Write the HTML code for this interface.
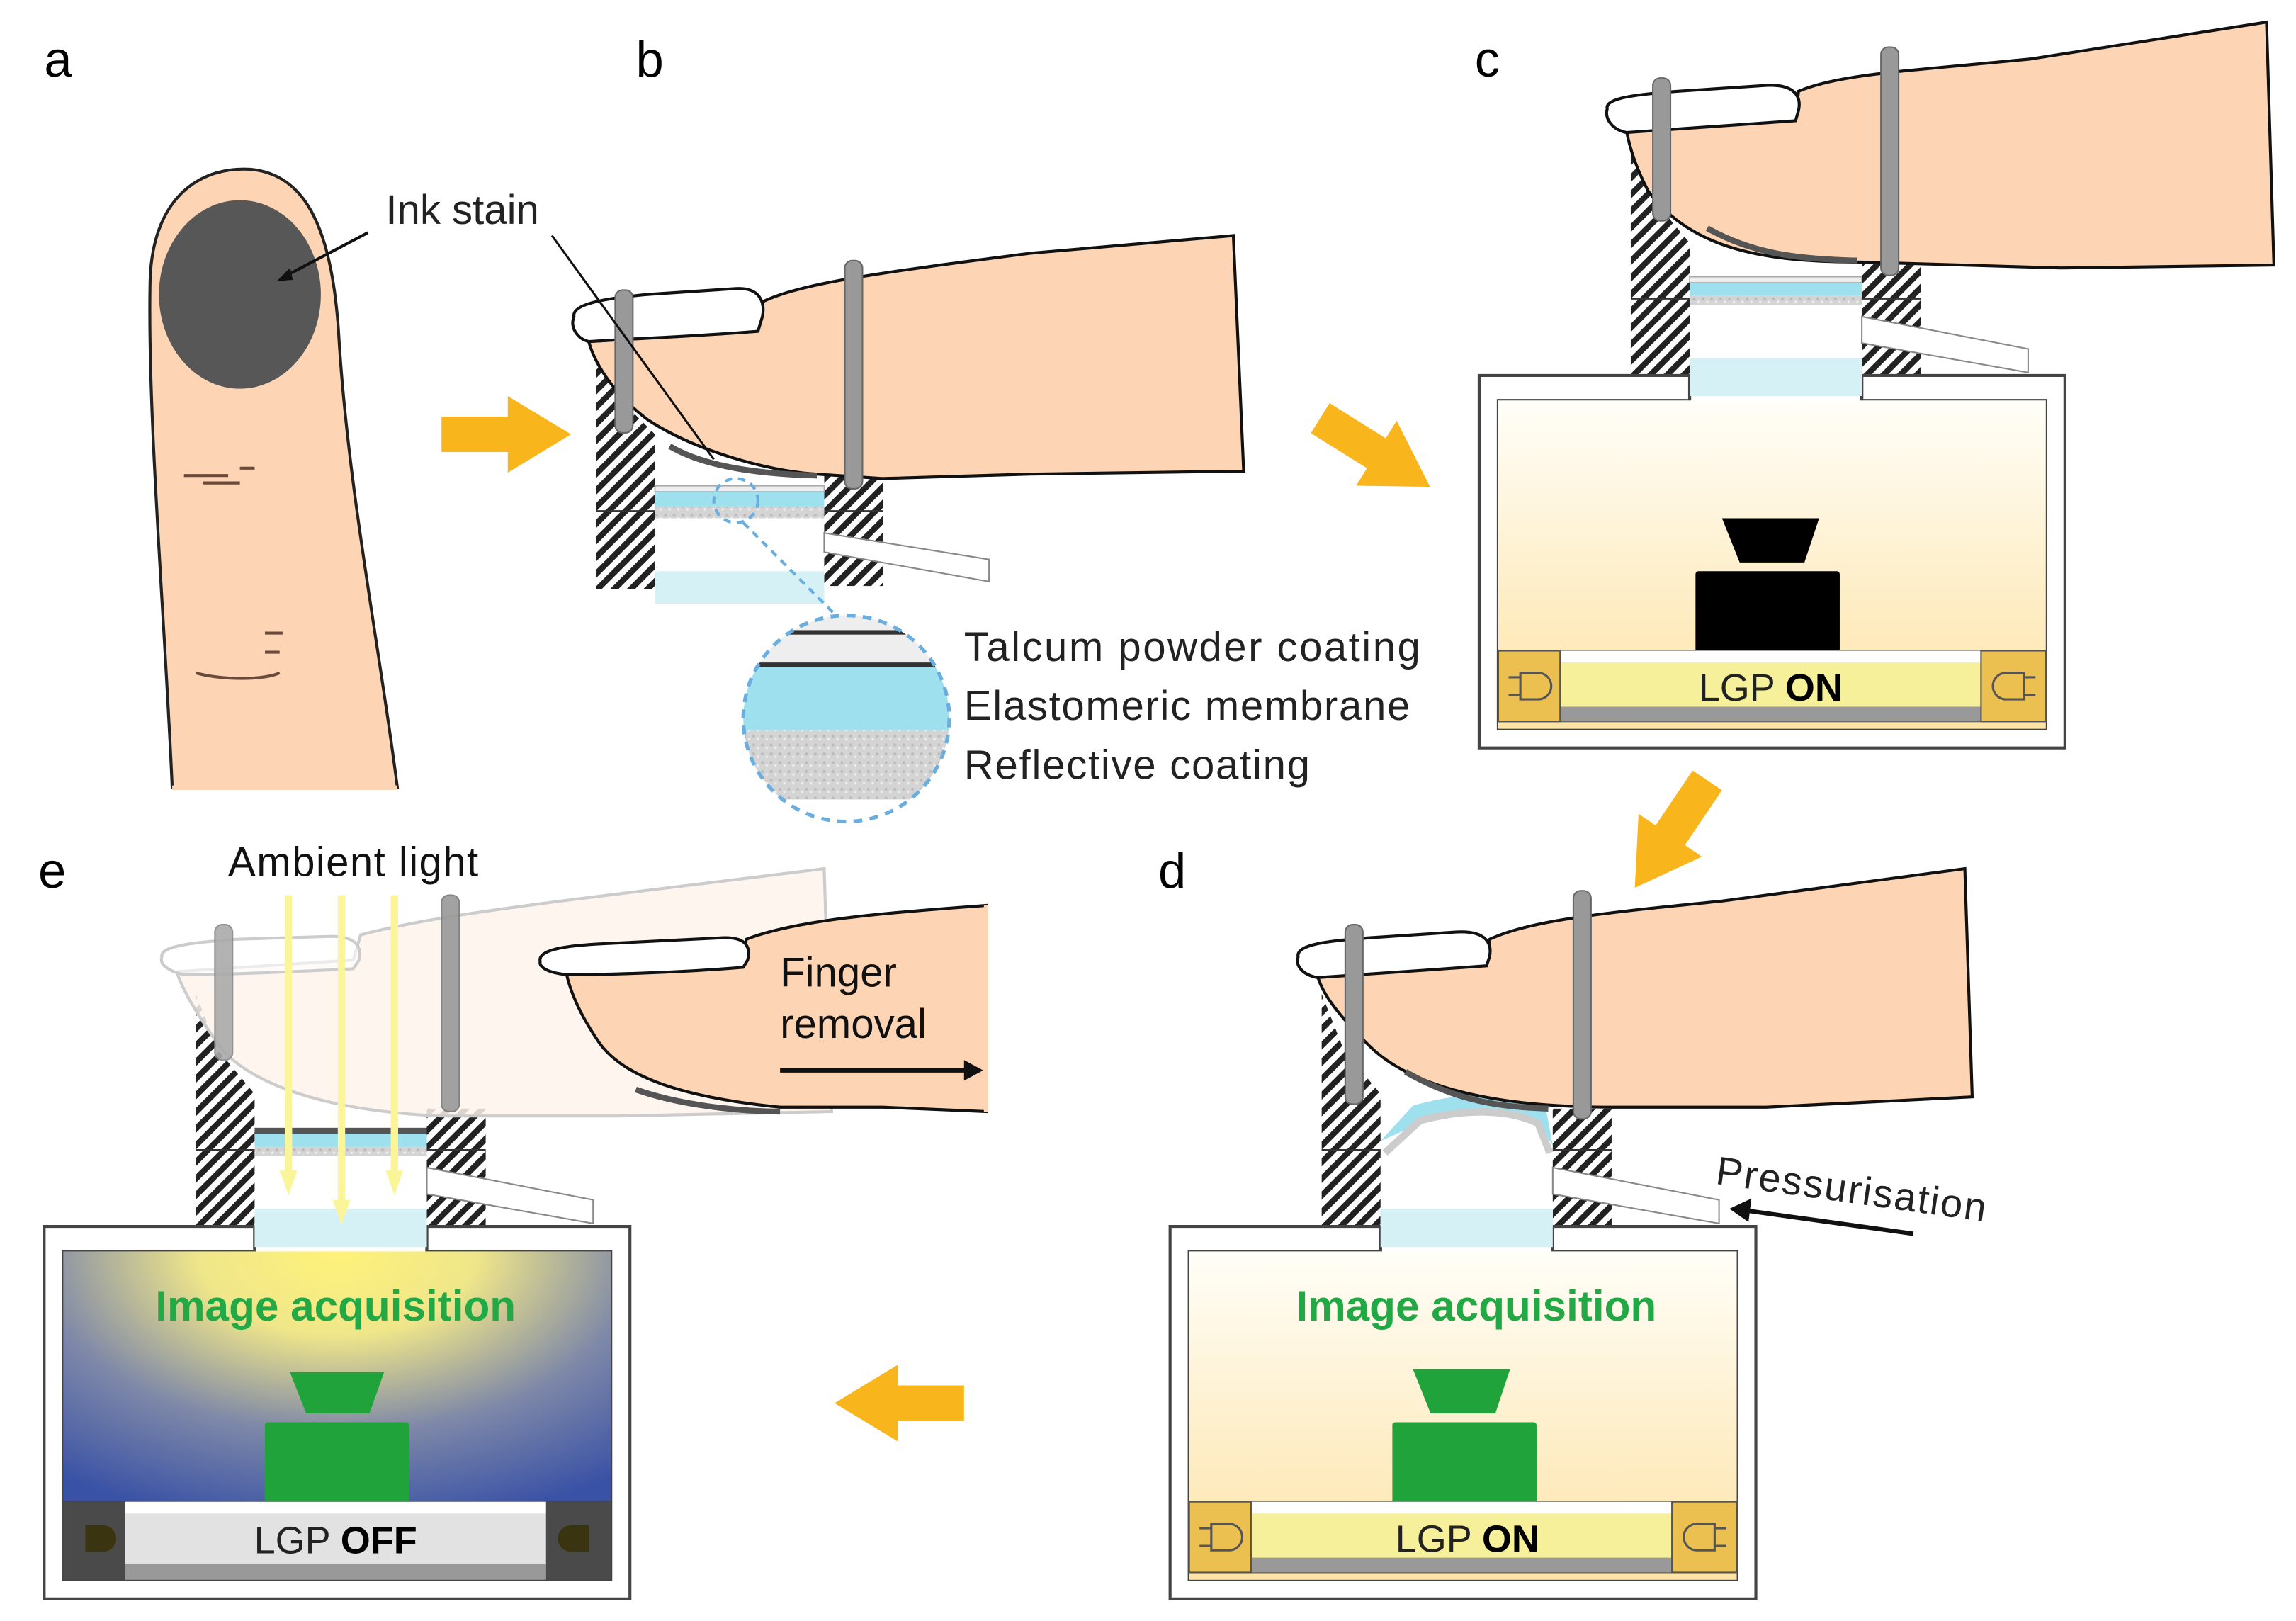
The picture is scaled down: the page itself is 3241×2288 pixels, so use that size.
<!DOCTYPE html>
<html><head><meta charset="utf-8"><style>html,body{margin:0;padding:0;background:#fff}svg{display:block}</style></head>
<body>
<svg width="3241" height="2288" viewBox="0 0 1560 1101" preserveAspectRatio="none" xmlns="http://www.w3.org/2000/svg" font-family="Liberation Sans, Arial, sans-serif">
<defs>
<pattern id="h" width="8" height="8" patternUnits="userSpaceOnUse" patternTransform="rotate(45)">
<rect width="8" height="8" fill="#fff"/><rect width="4" height="8" fill="#222"/></pattern>
<pattern id="tx" width="6" height="6" patternUnits="userSpaceOnUse"><rect width="6" height="6" fill="#d4d4d4"/><circle cx="2" cy="2" r="1" fill="#bbb"/><circle cx="5" cy="4" r="0.8" fill="#eee"/></pattern>
<linearGradient id="cream" x1="0" y1="0" x2="0" y2="1"><stop offset="0" stop-color="#fffef8"/><stop offset="1" stop-color="#fde3a6"/></linearGradient>
<radialGradient id="amb" cx="0.5" cy="0" r="0.85" fx="0.5" fy="0"><stop offset="0" stop-color="#fff27a"/><stop offset="0.3" stop-color="#efe68a"/><stop offset="0.65" stop-color="#7e88a8"/><stop offset="1" stop-color="#3a52a6"/></radialGradient>
<clipPath id="zc"><circle cx="575" cy="488" r="70"/></clipPath>
<g id="arr"><polygon points="0,-12 45,-12 45,-26 88,0 45,26 45,12 0,12" fill="#F9B51C"/></g>
<g id="dev">
<polygon points="103,-158 118,-120 143,-90 143,0 103,0" fill="url(#h)"/>
<line x1="103" y1="-52" x2="143" y2="-52" stroke="#333" stroke-width="1"/>
<rect x="260" y="-80" width="40" height="80" fill="url(#h)"/>
<line x1="260" y1="-52" x2="300" y2="-52" stroke="#333" stroke-width="1"/>
<polygon points="260,-40 373,-18 373,-2 260,-22" fill="#fff" stroke="#888" stroke-width="1"/>
<path d="M0,0 H143 V17 H13 V240 H385 V17 H260 V0 H398 V253 H0 Z" fill="#fff" stroke="#444" stroke-width="2"/>
<rect x="143" y="-12" width="117" height="26" fill="#d6f1f5"/>
<line x1="143" y1="0" x2="143" y2="17" stroke="#444" stroke-width="2"/>
<line x1="260" y1="0" x2="260" y2="17" stroke="#444" stroke-width="2"/>
</g>
</defs>

<!-- a -->
<text x="30" y="52" font-size="34">a</text>
<path d="M117,535 C112,420 100,280 102,190 C104,130 140,113 170,115 C205,118 225,150 230,225 C236,330 258,440 270,535 Z" fill="#FDD5B4" stroke="#222" stroke-width="2"/>
<line x1="117" y1="535" x2="270" y2="535" stroke="#FDD5B4" stroke-width="3"/>
<ellipse cx="163" cy="200" rx="55" ry="64" fill="#575757"/>
<path d="M125,323 h30 M138,328 h25 M163,318 h10 M180,430 h12 M180,443 h10 M133,457 C150,462 180,462 190,457" stroke="#6a4a3a" stroke-width="2" fill="none"/>
<text x="262" y="152" font-size="28" fill="#222">Ink stain</text>
<line x1="250" y1="158" x2="193" y2="188" stroke="#111" stroke-width="2"/>
<polygon points="188,191 197,182 199,190" fill="#111"/>
<use href="#arr" transform="translate(300,295)"/>

<!-- b -->
<text x="432" y="52" font-size="34">b</text>
<polygon points="405,240 420,270 445,295 445,400 405,400" fill="url(#h)"/>
<line x1="405" y1="347" x2="445" y2="347" stroke="#333"/>
<rect x="560" y="320" width="40" height="78" fill="url(#h)"/>
<line x1="560" y1="347" x2="600" y2="347" stroke="#333"/>
<polygon points="560,362 672,380 672,395 560,375" fill="#fff" stroke="#888"/>
<rect x="445" y="330" width="115" height="4" fill="#eee" stroke="#aaa" stroke-width="0.8"/>
<rect x="445" y="334" width="115" height="10" fill="#9ee0ee"/>
<rect x="445" y="344" width="115" height="8" fill="url(#tx)"/>
<rect x="445" y="388" width="115" height="22" fill="#d6f1f5"/>
<path d="M400,232 L515,225 L518,205 C545,192 600,185 700,172 L838,160 L845,320 L700,322 L600,325 L555,322 C520,320 470,305 440,285 C420,270 405,250 400,232 Z" fill="#FDD5B4" stroke="#111" stroke-width="2"/>
<path d="M390,215 C388,205 420,202 440,200 L500,196 C516,195 520,205 518,215 L515,225 C480,228 430,230 400,232 C392,230 387,222 390,215 Z" fill="#fff" stroke="#111" stroke-width="2"/>
<path d="M455,303 C480,318 520,322 555,323" stroke="#555" stroke-width="4" fill="none"/>
<rect x="418" y="197" width="12" height="97" rx="5" fill="#999" stroke="#666"/>
<rect x="574" y="177" width="12" height="155" rx="5" fill="#999" stroke="#666"/>
<line x1="375" y1="160" x2="485" y2="312" stroke="#111" stroke-width="1.5"/>
<circle cx="500" cy="340" r="15" fill="none" stroke="#6aaee0" stroke-width="2" stroke-dasharray="5,4"/>
<line x1="505" y1="355" x2="570" y2="420" stroke="#6aaee0" stroke-width="2" stroke-dasharray="5,4"/>
<g clip-path="url(#zc)">
<rect x="500" y="418" width="150" height="35" fill="#eee"/>
<rect x="500" y="428" width="150" height="3" fill="#333"/>
<rect x="500" y="450" width="150" height="3" fill="#333"/>
<rect x="500" y="453" width="150" height="43" fill="#9ee0ee"/>
<rect x="500" y="496" width="150" height="47" fill="url(#tx)"/>
</g>
<circle cx="575" cy="488" r="70" fill="none" stroke="#6aaee0" stroke-width="2.5" stroke-dasharray="6,5"/>
<text x="655" y="449" font-size="28" fill="#222" textLength="310">Talcum powder coating</text>
<text x="655" y="489" font-size="28" fill="#222" textLength="303">Elastomeric membrane</text>
<text x="655" y="529" font-size="28" fill="#222" textLength="235">Reflective coating</text>
<use href="#arr" transform="translate(897,284) rotate(32)"/>

<!-- c -->
<text x="1002" y="52" font-size="34">c</text>
<g transform="translate(1005,255)">
<use href="#dev"/>
<rect x="143" y="-67" width="117" height="4" fill="#eee" stroke="#aaa" stroke-width="0.8"/>
<rect x="143" y="-63" width="117" height="9" fill="#9ee0ee"/>
<rect x="143" y="-54" width="117" height="6" fill="url(#tx)"/>
<rect x="13" y="17" width="372" height="223" fill="url(#cream)"/>
<rect x="143" y="-12" width="117" height="26" fill="#d6f1f5"/>
<polygon points="165,97 231,97 221,127 177,127" fill="#000"/>
<rect x="147" y="133" width="98" height="55" rx="2" fill="#000"/>
<rect x="13" y="187" width="372" height="48" fill="#f7f09a" stroke="#555"/>
<rect x="55" y="187" width="286" height="8" fill="#fff"/>
<rect x="55" y="225" width="286" height="10" fill="#999"/>
<rect x="13" y="187" width="42" height="48" fill="#ecc050" stroke="#555"/>
<rect x="341" y="187" width="44" height="48" fill="#ecc050" stroke="#555"/>
<path d="M20,205 h8 M20,217 h8 M28,202 h12 a9,9 0 0 1 0,18 h-12 Z" fill="none" stroke="#555" stroke-width="1.5"/>
<path d="M378,205 h-8 M378,217 h-8 M370,202 h-12 a9,9 0 0 0 0,18 h12 Z" fill="none" stroke="#555" stroke-width="1.5"/>
<text x="198" y="221" font-size="26" text-anchor="middle" fill="#222">LGP <tspan font-weight="bold" fill="#000">ON</tspan></text>
</g>
<path d="M1105,88 L1220,80 L1222,62 C1250,50 1300,48 1380,40 L1540,15 L1545,180 L1400,182 L1265,178 C1200,178 1150,170 1120,130 C1112,115 1107,100 1105,88 Z" fill="#FDD5B4" stroke="#111" stroke-width="2"/>
<path d="M1092,74 C1090,66 1115,64 1140,62 L1200,58 C1220,57 1224,66 1222,75 L1220,82 C1180,85 1130,88 1105,90 C1095,88 1090,80 1092,74 Z" fill="#fff" stroke="#111" stroke-width="2"/>
<path d="M1160,155 C1190,172 1220,176 1262,177" stroke="#555" stroke-width="4" fill="none"/>
<rect x="1123" y="53" width="12" height="97" rx="5" fill="#999" stroke="#666"/>
<rect x="1278" y="32" width="12" height="155" rx="5" fill="#999" stroke="#666"/>
<use href="#arr" transform="translate(1160,530) rotate(124)"/>

<!-- d -->
<text x="787" y="603" font-size="34">d</text>
<g transform="translate(795,833)">
<use href="#dev"/>
<rect x="13" y="17" width="372" height="223" fill="url(#cream)"/>
<rect x="143" y="-12" width="117" height="26" fill="#d6f1f5"/>
<path d="M143,-58 L165,-82 C200,-92 230,-92 255,-82 L260,-55 L250,-70 C230,-80 200,-80 170,-70 Z" fill="#9ee0ee"/>
<path d="M146,-50 L170,-72 C200,-80 230,-80 250,-70 L258,-50" fill="none" stroke="#ccc" stroke-width="5"/>
<text x="208" y="64" font-size="29" font-weight="bold" fill="#22a844" text-anchor="middle">Image acquisition</text>
<polygon points="165,97 231,97 221,127 177,127" fill="#1fa33a"/>
<rect x="151" y="133" width="98" height="55" rx="2" fill="#1fa33a"/>
<rect x="13" y="187" width="372" height="48" fill="#f7f09a" stroke="#555"/>
<rect x="55" y="187" width="286" height="8" fill="#fff"/>
<rect x="55" y="225" width="286" height="10" fill="#999"/>
<rect x="13" y="187" width="42" height="48" fill="#ecc050" stroke="#555"/>
<rect x="341" y="187" width="44" height="48" fill="#ecc050" stroke="#555"/>
<path d="M20,205 h8 M20,217 h8 M28,202 h12 a9,9 0 0 1 0,18 h-12 Z" fill="none" stroke="#555" stroke-width="1.5"/>
<path d="M378,205 h-8 M378,217 h-8 M370,202 h-12 a9,9 0 0 0 0,18 h12 Z" fill="none" stroke="#555" stroke-width="1.5"/>
<text x="202" y="221" font-size="26" text-anchor="middle" fill="#222">LGP <tspan font-weight="bold" fill="#000">ON</tspan></text>
</g>
<path d="M895,662 L1010,655 L1012,638 C1040,625 1090,620 1170,612 L1335,590 L1340,745 L1200,752 L1095,752 C1020,752 960,740 930,710 C910,690 898,675 895,662 Z" fill="#FDD5B4" stroke="#111" stroke-width="2"/>
<path d="M882,650 C880,641 905,639 930,637 L990,633 C1010,632 1014,641 1012,650 L1010,656 C970,659 920,662 895,664 C885,662 880,656 882,650 Z" fill="#fff" stroke="#111" stroke-width="2"/>
<path d="M955,728 C990,748 1020,752 1052,753" stroke="#555" stroke-width="4" fill="none"/>
<rect x="914" y="628" width="12" height="122" rx="5" fill="#999" stroke="#666"/>
<rect x="1069" y="605" width="12" height="155" rx="5" fill="#999" stroke="#666"/>
<text x="1165" y="804" font-size="27" fill="#222" transform="rotate(8 1165 804)" textLength="185">Pressurisation</text>
<line x1="1300" y1="838" x2="1185" y2="822" stroke="#111" stroke-width="3"/>
<polygon points="1175,821 1190,814 1188,830" fill="#111"/>
<use href="#arr" transform="translate(655,953) rotate(180)"/>

<!-- e -->
<text x="26" y="603" font-size="34">e</text>
<g transform="translate(30,833)">
<use href="#dev"/>
<rect x="13" y="17" width="372" height="223" fill="url(#amb)"/>
<rect x="143" y="-12" width="117" height="26" fill="#d6f1f5"/>
<rect x="143" y="-67" width="117" height="4" fill="#555"/>
<rect x="143" y="-63" width="117" height="9" fill="#9ee0ee"/>
<rect x="143" y="-54" width="117" height="6" fill="url(#tx)"/>
<text x="198" y="64" font-size="29" font-weight="bold" fill="#22a844" text-anchor="middle">Image acquisition</text>
<polygon points="167,99 231,99 221,127 178,127" fill="#1fa33a"/>
<rect x="150" y="133" width="98" height="55" rx="2" fill="#1fa33a"/>
<rect x="13" y="187" width="372" height="53" fill="#e2e2e2" stroke="#444"/>
<rect x="55" y="187" width="286" height="8" fill="#fff"/>
<rect x="55" y="229" width="286" height="11" fill="#999"/>
<rect x="13" y="187" width="42" height="53" fill="#4a4a4a"/>
<rect x="341" y="187" width="44" height="53" fill="#4a4a4a"/>
<path d="M28,203 h12 a9,9 0 0 1 0,18 h-12 Z" fill="#3a3510"/>
<path d="M370,203 h-12 a9,9 0 0 0 0,18 h12 Z" fill="#3a3510"/>
<text x="198" y="222" font-size="26" text-anchor="middle" fill="#222">LGP <tspan font-weight="bold" fill="#000">OFF</tspan></text>
</g>
<path d="M120,660 L240,652 L245,635 C300,620 400,610 560,590 L565,755 L420,758 L300,758 C230,755 175,740 150,712 C135,690 125,675 120,660 Z" fill="#FEF3EC" fill-opacity="0.85" stroke="#ccc" stroke-width="2"/>
<path d="M110,650 C108,642 135,640 160,638 L225,636 C242,636 246,643 244,652 L240,658 C200,660 150,662 125,662 C115,660 108,655 110,650 Z" fill="#fff" fill-opacity="0.6" stroke="#ccc" stroke-width="2"/>
<rect x="146" y="628" width="12" height="92" rx="5" fill="#aaa" stroke="#888" opacity="0.9"/>
<rect x="300" y="608" width="12" height="147" rx="5" fill="#999" stroke="#777" opacity="0.9"/>
<path d="M385,662 L505,656 L507,638 C540,625 600,620 670,615 L670,755 L600,752 L530,752 C460,745 420,730 405,705 C395,690 388,675 385,662 Z" fill="#FDD5B4" stroke="#111" stroke-width="2"/>
<line x1="670" y1="615" x2="670" y2="755" stroke="#FDD5B4" stroke-width="3"/>
<path d="M367,653 C365,644 390,642 410,641 L490,637 C508,636 510,644 508,652 L505,657 C470,660 420,662 385,662 C375,661 366,658 367,653 Z" fill="#fff" stroke="#111" stroke-width="2"/>
<path d="M432,740 C460,750 500,755 530,755" stroke="#555" stroke-width="4" fill="none"/>
<text x="155" y="595" font-size="28" fill="#111" textLength="170">Ambient light</text>
<g stroke="#fbf59a" stroke-width="5" fill="#fbf59a">
<line x1="196" y1="608" x2="196" y2="800"/><polygon points="190,795 202,795 196,812" stroke="none"/>
<line x1="232" y1="608" x2="232" y2="820"/><polygon points="226,815 238,815 232,832" stroke="none"/>
<line x1="268" y1="608" x2="268" y2="800"/><polygon points="262,795 274,795 268,812" stroke="none"/>
</g>
<text x="530" y="670" font-size="28" fill="#111">Finger</text>
<text x="530" y="705" font-size="28" fill="#111">removal</text>
<line x1="530" y1="727" x2="658" y2="727" stroke="#111" stroke-width="3"/>
<polygon points="668,727 655,720 655,734" fill="#111"/>
</svg>
</body></html>
